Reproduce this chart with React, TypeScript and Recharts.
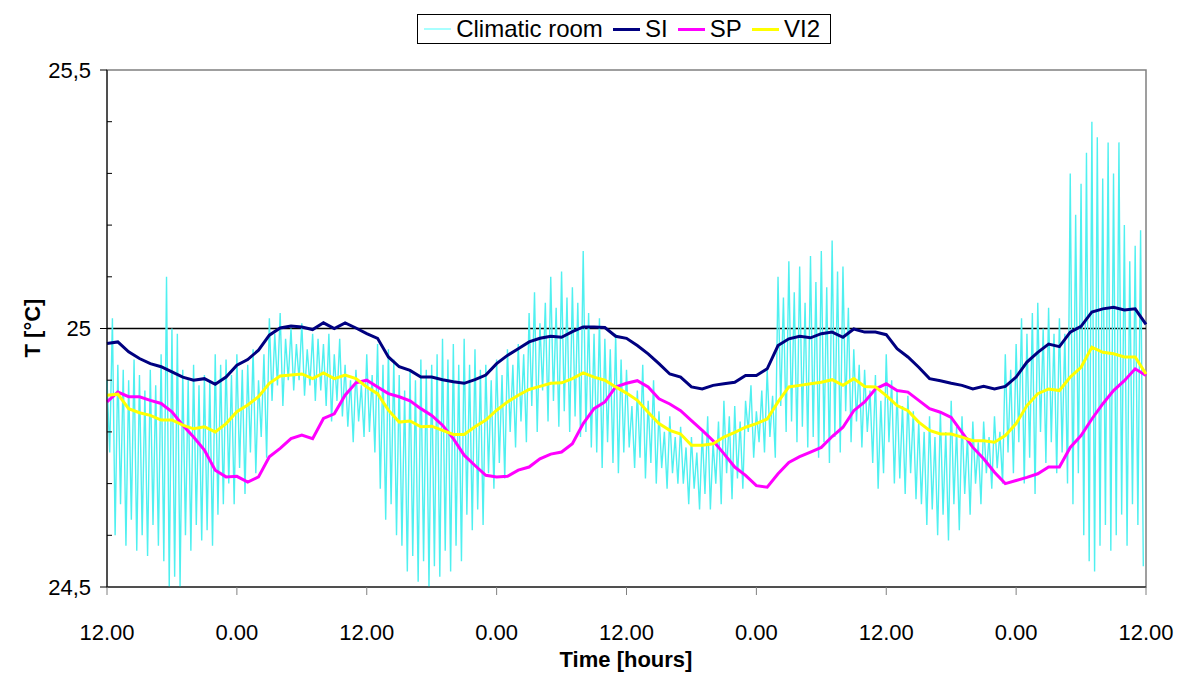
import React from 'react'
import { LineChart, Line, XAxis, YAxis, ReferenceLine, ReferenceArea } from 'recharts'

// hours since the first 12.00, one value per hour
const siTemp = [
  24.971, 24.974, 24.955, 24.942, 24.932, 24.926, 24.916, 24.906, 24.9, 24.903, 24.892, 24.906, 24.929,
  24.94, 24.958, 24.987, 25.001, 25.005, 25.003, 24.998, 25.011, 25.0, 25.011, 25.001, 24.99,
  24.981, 24.945, 24.926, 24.919, 24.906, 24.906, 24.901, 24.897, 24.894, 24.901, 24.91, 24.932,
  24.948, 24.961, 24.974, 24.981, 24.985, 24.983, 24.994, 25.003, 25.003, 25.002, 24.985, 24.981,
  24.967, 24.951, 24.932, 24.912, 24.906, 24.887, 24.883, 24.89, 24.893, 24.896, 24.909, 24.909,
  24.922, 24.967, 24.98, 24.985, 24.982, 24.99, 24.993, 24.983, 24.999, 24.993, 24.993, 24.988,
  24.961, 24.945, 24.925, 24.903, 24.899, 24.894, 24.89, 24.883, 24.888, 24.883, 24.888, 24.906,
  24.935, 24.954, 24.97, 24.965, 24.993, 25.004, 25.032, 25.038, 25.041, 25.036, 25.038, 25.008,
]

const spTemp = [
  24.858, 24.877, 24.868, 24.868, 24.861, 24.855, 24.839, 24.813, 24.79, 24.765, 24.726, 24.713, 24.714,
  24.703, 24.713, 24.752, 24.768, 24.787, 24.794, 24.787, 24.826, 24.835, 24.871, 24.895, 24.9,
  24.887, 24.874, 24.868, 24.86, 24.845, 24.832, 24.813, 24.787, 24.755, 24.735, 24.716, 24.713,
  24.714, 24.726, 24.732, 24.748, 24.757, 24.761, 24.777, 24.816, 24.845, 24.858, 24.887, 24.894,
  24.899, 24.887, 24.864, 24.854, 24.841, 24.822, 24.803, 24.783, 24.758, 24.732, 24.716, 24.696,
  24.693, 24.719, 24.741, 24.752, 24.761, 24.77, 24.791, 24.809, 24.841, 24.858, 24.883, 24.893,
  24.88, 24.877, 24.861, 24.845, 24.838, 24.828, 24.799, 24.77, 24.748, 24.722, 24.7, 24.706,
  24.712, 24.719, 24.732, 24.732, 24.77, 24.793, 24.825, 24.854, 24.88, 24.899, 24.922, 24.909,
]

const vi2Temp = [
  24.871, 24.873, 24.845, 24.837, 24.832, 24.823, 24.823, 24.813, 24.806, 24.81, 24.8, 24.816, 24.839,
  24.852, 24.868, 24.894, 24.908, 24.91, 24.912, 24.903, 24.914, 24.903, 24.91, 24.903, 24.887,
  24.874, 24.842, 24.819, 24.821, 24.81, 24.811, 24.803, 24.795, 24.795, 24.81, 24.823, 24.842,
  24.858, 24.871, 24.882, 24.888, 24.894, 24.895, 24.903, 24.914, 24.906, 24.9, 24.887, 24.875,
  24.861, 24.838, 24.816, 24.803, 24.796, 24.774, 24.774, 24.777, 24.79, 24.799, 24.809, 24.816,
  24.825, 24.858, 24.887, 24.89, 24.893, 24.896, 24.901, 24.89, 24.903, 24.888, 24.887, 24.87,
  24.851, 24.841, 24.819, 24.803, 24.796, 24.796, 24.79, 24.783, 24.783, 24.78, 24.793, 24.816,
  24.851, 24.874, 24.883, 24.88, 24.906, 24.925, 24.964, 24.954, 24.951, 24.945, 24.945, 24.912,
]

// climatic room: peak and trough of each half-hour swing
const roomHigh = [
  24.9, 25.02, 24.93, 24.92, 24.9, 24.94, 24.91, 24.88, 24.92, 24.89,
  24.95, 25.1, 25.0, 24.99, 24.92, 24.9, 24.93, 24.89, 24.91, 24.9,
  24.95, 24.93, 24.94, 24.91, 24.95, 24.92, 24.93, 24.96, 24.9, 24.95,
  25.02, 24.99, 25.03, 24.98, 25.0, 24.97, 25.01, 24.96, 24.99, 24.98,
  24.97, 24.99, 24.95, 24.98, 24.93, 24.9, 24.92, 24.89, 24.95, 24.91,
  24.97, 24.93, 24.96, 24.94, 24.91, 24.88, 24.92, 24.9, 24.94, 24.92,
  24.93, 24.95, 24.98, 24.94, 24.97, 24.93, 24.98, 24.93, 24.96, 24.92,
  24.93, 24.9, 24.94, 24.91, 24.96, 24.93, 24.97, 24.95, 25.03, 25.07,
  25.01, 25.05, 25.1, 25.04, 25.11, 25.06, 25.08, 25.05, 25.15, 25.03,
  24.99, 25.02, 24.98, 24.96, 24.99, 24.94, 24.92, 24.85, 24.88, 24.93,
  24.86, 24.9, 24.84, 24.8, 24.83, 24.79, 24.81, 24.77, 24.79, 24.76,
  24.8, 24.83, 24.78, 24.82, 24.86, 24.83, 24.85, 24.82, 24.86, 24.89,
  24.84, 24.88, 24.92, 24.87, 25.1, 25.06, 25.13, 25.07, 25.12, 25.05,
  25.14, 25.09, 25.15, 25.08, 25.17, 25.11, 25.12, 25.04, 24.96, 24.93,
  24.92, 24.88, 24.91, 24.86, 24.95, 24.9, 24.88, 24.85, 24.87, 24.84,
  24.82, 24.8, 24.83, 24.79, 24.84, 24.8, 24.86, 24.81, 24.83, 24.79,
  24.82, 24.78, 24.82, 24.79, 24.83, 24.8, 24.95, 24.92, 24.97, 25.02,
  24.99, 25.03, 25.05, 25.0, 25.04, 24.99, 25.02, 24.99, 25.3, 25.22,
  25.28, 25.34, 25.4, 25.37, 25.29, 25.36, 25.3, 25.36, 25.2, 25.13,
  25.16, 25.19,
]

const roomLow = [
  24.76, 24.6, 24.66, 24.58, 24.63, 24.57, 24.6, 24.56, 24.62, 24.58,
  24.55, 24.5, 24.52, 24.5, 24.6, 24.57, 24.62, 24.59, 24.61, 24.58,
  24.64, 24.66, 24.7, 24.66, 24.73, 24.68, 24.76, 24.72, 24.79, 24.75,
  24.86, 24.89, 24.85, 24.9, 24.88, 24.9, 24.87, 24.89, 24.86, 24.88,
  24.85, 24.82, 24.86, 24.83, 24.81, 24.78, 24.82, 24.79, 24.8, 24.76,
  24.69, 24.63, 24.66, 24.6, 24.58, 24.53, 24.56, 24.51, 24.55, 24.5,
  24.54, 24.52, 24.57, 24.53, 24.58, 24.55, 24.64, 24.61, 24.65, 24.62,
  24.72, 24.69, 24.74, 24.71, 24.8, 24.77, 24.82, 24.78, 24.85, 24.8,
  24.88, 24.82, 24.86, 24.81, 24.84, 24.8, 24.83, 24.79, 24.8, 24.77,
  24.76, 24.73, 24.78, 24.74, 24.72, 24.76, 24.77, 24.73, 24.75, 24.71,
  24.74, 24.7, 24.73, 24.69, 24.72, 24.7, 24.7, 24.66, 24.69, 24.65,
  24.68, 24.65, 24.7, 24.66, 24.72, 24.67, 24.71, 24.69, 24.8, 24.75,
  24.78, 24.76, 24.79, 24.75, 24.85, 24.8, 24.82, 24.78, 24.81, 24.77,
  24.79, 24.75, 24.78, 24.74, 24.79, 24.76, 24.84, 24.78, 24.82, 24.77,
  24.8, 24.74, 24.69, 24.72, 24.78, 24.7, 24.71, 24.68, 24.72, 24.67,
  24.66, 24.62, 24.65, 24.6, 24.64, 24.59, 24.66, 24.61, 24.68, 24.64,
  24.7, 24.66, 24.72, 24.69, 24.73, 24.7, 24.76, 24.72, 24.78, 24.7,
  24.75, 24.68, 24.8, 24.74, 24.78, 24.72, 24.76, 24.7, 24.66, 24.72,
  24.6, 24.55, 24.53, 24.58, 24.62, 24.57, 24.6, 24.64, 24.58, 24.66,
  24.62, 24.54,
]

const xTickHours = [0, 12, 24, 36, 48, 60, 72, 84, 96]
const xTickLabels = ['12.00', '0.00', '12.00', '0.00', '12.00', '0.00', '12.00', '0.00', '12.00']
const yTicks = [24.5, 24.6, 24.7, 24.8, 24.9, 25, 25.1, 25.2, 25.3, 25.4, 25.5]
const yTickLabels: Record<string, string> = { '24.5': '24,5', '25': '25', '25.5': '25,5' }

const seriesNames = ['Climatic room', 'SI', 'SP', 'VI2']
const seriesColors = ['#4ff0f0', '#000080', '#ff00ff', '#ffff00']
const legendColors = ['#a8ffff', '#000080', '#ff00ff', '#ffff00']
const seriesWidths = [1.4, 3, 3, 3]
const legendWidths = [2, 3, 3, 3]

const hourly = (vals: number[]) => vals.map((v, i) => ({ t: i, v }))
const roomData = roomHigh.flatMap((h, i) => [
  { t: i / 2, v: h },
  { t: i / 2 + 0.25, v: roomLow[i] },
])
const seriesData = [roomData, hourly(siTemp), hourly(spTemp), hourly(vi2Temp)]

const FONT = '"Liberation Sans", Arial, sans-serif'
const AXIS_X = 107

const YTick = (props: any) => {
  const { y, payload } = props
  const label = yTickLabels[String(payload.value)]
  if (label !== undefined) {
    return (
      <g>
        <line x1={AXIS_X - 7} x2={AXIS_X} y1={y} y2={y} stroke="#000" />
        <text x={AXIS_X - 16} y={y} dy="0.35em" textAnchor="end" fontSize={22} fontFamily={FONT} fill="#000">
          {label}
        </text>
      </g>
    )
  }
  return <line x1={AXIS_X} x2={AXIS_X + 5} y1={y} y2={y} stroke="#000" />
}

const Legend = () => (
  <div
    style={{
      position: 'absolute', left: 417, top: 14, width: 414, height: 30, boxSizing: 'border-box',
      border: '1px solid #000', background: '#fff', display: 'flex', alignItems: 'center',
      paddingLeft: 6, fontSize: 24, fontFamily: FONT, color: '#000', whiteSpace: 'nowrap',
    }}
  >
    {seriesNames.map((name, i) => (
      <React.Fragment key={name}>
        <span style={{ display: 'inline-block', width: 32, height: legendWidths[i], background: legendColors[i], marginRight: 5 }} />
        <span style={{ marginRight: 10 }}>{name}</span>
      </React.Fragment>
    ))}
  </div>
)

export default function App() {
  return (
    <div style={{ position: 'absolute', left: 0, top: 0, width: 1185, height: 673, background: '#fff', fontFamily: FONT }}>
      <LineChart width={1185} height={673} margin={{ top: 70, right: 39, bottom: 26, left: 40 }}>
        <XAxis
          type="number"
          dataKey="t"
          domain={[0, 96]}
          ticks={xTickHours}
          tickFormatter={(h: number) => xTickLabels[xTickHours.indexOf(h)]}
          interval={0}
          height={60}
          tickSize={8}
          tickMargin={29}
          axisLine={{ stroke: '#000' }}
          tickLine={{ stroke: '#808080' }}
          tick={{ fill: '#000', fontSize: 22, fontFamily: FONT }}
          label={{
            content: () => (
              <text x={626} y={667} textAnchor="middle" fontSize={22} fontWeight="bold" fontFamily={FONT} fill="#000">
                Time [hours]
              </text>
            ),
          }}
        />
        <YAxis
          type="number"
          domain={[24.5, 25.5]}
          ticks={yTicks}
          interval={0}
          allowDataOverflow
          width={67}
          tickLine={false}
          axisLine={{ stroke: '#000' }}
          tick={<YTick />}
          label={{
            content: () => (
              <text
                x={32}
                y={328}
                transform="rotate(-90 32 328)"
                textAnchor="middle"
                dy="0.35em"
                fontSize={22}
                fontWeight="bold"
                fontFamily={FONT}
                fill="#000"
              >
                T [°C]
              </text>
            ),
          }}
        />
        <ReferenceArea x1={0} x2={96} y1={24.5} y2={25.5} fill="none" stroke="#808080" strokeWidth={1.5} />
        <ReferenceLine y={25} stroke="#000" strokeWidth={1.3} />
        {seriesNames.map((name, i) => (
          <Line
            key={name}
            name={name}
            data={seriesData[i]}
            dataKey="v"
            type="linear"
            stroke={seriesColors[i]}
            strokeWidth={seriesWidths[i]}
            dot={false}
            isAnimationActive={false}
          />
        ))}
      </LineChart>
      <Legend />
    </div>
  )
}
